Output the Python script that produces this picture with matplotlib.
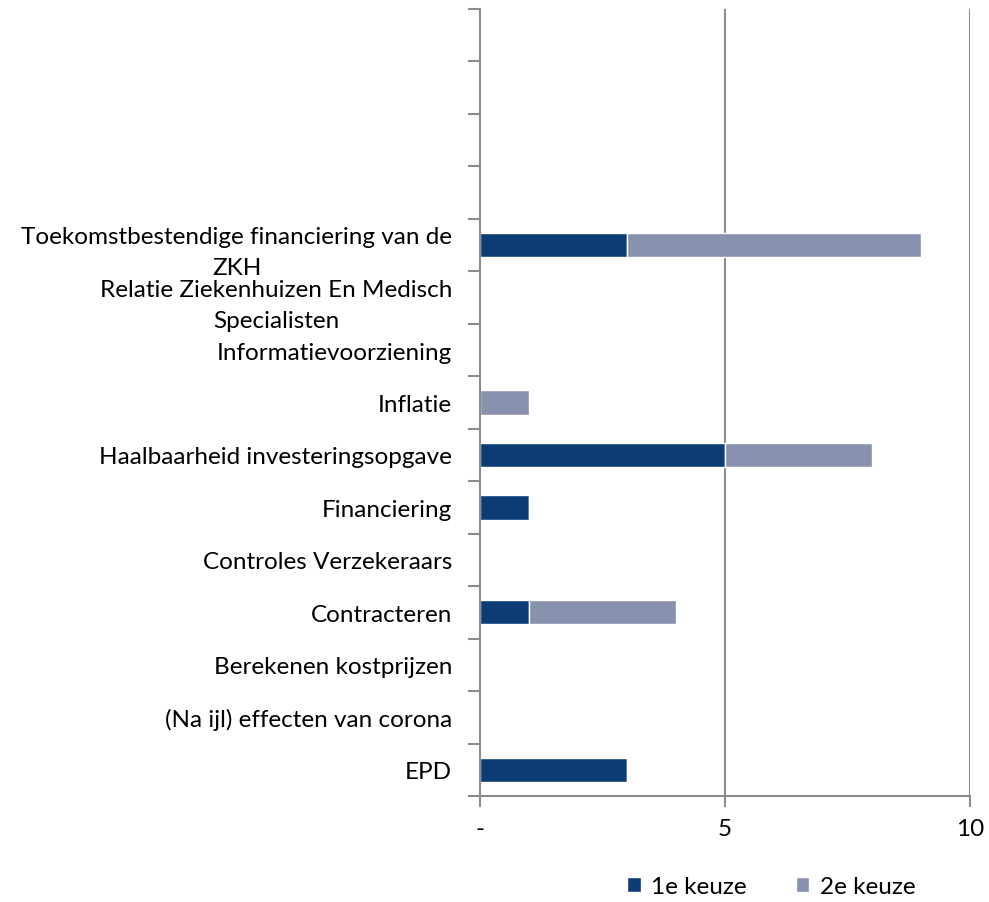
import matplotlib
matplotlib.use("Agg")
import matplotlib.pyplot as plt
import numpy as np

# Data (bottom -> top), 4 empty slots at the top
categories = ["EPD", "(Na ijl) effecten van corona", "Berekenen kostprijzen",
              "Contracteren", "Controles Verzekeraars", "Financiering",
              "Haalbaarheid investeringsopgave", "Inflatie", "Informatievoorziening",
              "Relatie Ziekenhuizen En Medisch\nSpecialisten",
              "Toekomstbestendige financiering van de\nZKH",
              "", "", "", ""]
keuze1 = [3, 0, 0, 1, 0, 1, 5, 0, 0, 0, 3, 0, 0, 0, 0]
keuze2 = [0, 0, 0, 3, 0, 0, 3, 1, 0, 0, 6, 0, 0, 0, 0]
xticks = [0, 5, 10]
xticklabels = ["-", "5", "10"]

plt.rcParams['font.family'] = ['Lato', 'DejaVu Sans']
dark = '#0B3D74'
light = '#8891AD'
grey = '#8C8C8C'
fs = 17.5

fig = plt.figure(figsize=(9.89, 9.03), dpi=100)
ax = fig.add_axes([0.4853, 0.1174, 0.4955, 0.8715])

y = np.arange(len(categories))
ax.barh(y, keuze1, height=0.46, color=dark, edgecolor='white', linewidth=1, label='1e keuze')
ax.barh(y, keuze2, left=keuze1, height=0.46, color=light, edgecolor='white', linewidth=1, label='2e keuze')

ax.set_xlim(0, 10)
ax.set_ylim(-0.5, len(categories) - 0.5)

# category boundaries get tick marks, labels sit at the centres
ax.set_yticks(np.arange(-0.5, len(categories), 1.0))
ax.set_yticklabels([])
ax.set_yticks(y, minor=True)
ax.set_yticklabels(categories, minor=True, fontsize=fs, ha='right', multialignment='center',
                   linespacing=1.6)
ax.tick_params(axis='y', which='major', length=9, width=1.5, color=grey, direction='out')
ax.tick_params(axis='y', which='minor', length=0, pad=20)

ax.set_xticks(xticks)
ax.set_xticklabels(xticklabels, fontsize=fs)
ax.tick_params(axis='x', length=8, width=1.5, color=grey, direction='out', pad=8)

ax.grid(axis='x', color=grey, linewidth=1.5)
ax.set_axisbelow(True)
for s in ['top', 'right']:
    ax.spines[s].set_visible(False)
for s in ['left', 'bottom']:
    ax.spines[s].set_color(grey)
    ax.spines[s].set_linewidth(1.5)

leg = fig.legend(loc='center', bbox_to_anchor=(0.78, 0.017), ncol=2, frameon=False,
                 fontsize=fs, handlelength=0.55, handleheight=0.55, handletextpad=0.45,
                 columnspacing=2.0)

fig.savefig('out.png', dpi=100)
